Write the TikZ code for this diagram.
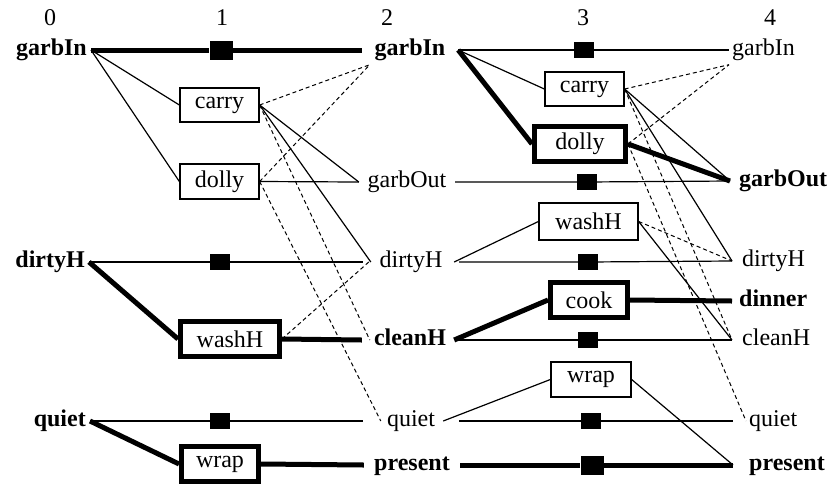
\documentclass[tikz,border=0pt]{standalone}
\usepackage{fontspec}
\setmainfont{Liberation Serif}
\begin{document}
\begin{tikzpicture}[x=1pt,y=-1pt,
  font=\fontsize{24}{28}\selectfont,
  lbl/.style={inner sep=4pt, text height=16pt, text depth=5pt},
  blbl/.style={lbl, font=\fontsize{24}{28}\selectfont\bfseries},
  mid/.style={inner xsep=0pt, minimum width=96pt},
  num/.style={inner sep=0pt},
  act/.style={draw, line width=1.3pt, inner sep=0pt, minimum width=79pt, minimum height=34pt},
  bact/.style={draw, line width=5pt, inner sep=0pt, minimum height=35pt},
  noop/.style={fill=black, inner sep=0pt, minimum width=20pt, minimum height=16pt},
  bnoop/.style={fill=black, inner sep=0pt, minimum width=23pt, minimum height=19pt},
  light/.style={line width=1.2pt},
  heavy/.style={line width=5pt},
  del/.style={line width=1pt, dash pattern=on 4pt off 3pt}
]
\useasboundingbox (0,0) rectangle (835,483);

% column numbers
\node[num] (n0) at (50,18) {0};
\node[num] (n1) at (222,18) {1};
\node[num] (n2) at (387,18) {2};
\node[num] (n3) at (583,18) {3};
\node[num] (n4) at (770,18) {4};

% level 0
\node[blbl, anchor=east] (g0) at (91,50) {garbIn};
\node[blbl, anchor=east] (d0) at (89,262) {dirtyH};
\node[blbl, anchor=east] (q0) at (90,421) {quiet};

% level 2 (centred in a column from 362 to 458)
\node[blbl, mid] (g2) at (410,50) {garbIn};
\node[lbl, mid] (o2) at (407,182) {garbOut};
\node[lbl, mid] (d2) at (411,262) {dirtyH};
\node[blbl, mid] (c2) at (410,340) {cleanH};
\node[lbl, mid] (q2) at (411,421) {quiet};
\node[blbl, mid] (p2) at (412,465) {present};

% level 4
\node[lbl, anchor=west, inner xsep=3pt] (g4) at (729,50) {garbIn};
\node[blbl, anchor=west, inner xsep=9pt] (o4) at (730,181) {garbOut};
\node[lbl, anchor=west, inner xsep=10pt] (d4) at (732,261) {dirtyH};
\node[blbl, anchor=west, inner xsep=7pt] (di4) at (732,301) {dinner};
\node[lbl, anchor=west, inner xsep=10pt] (c4) at (732,340) {cleanH};
\node[lbl, anchor=west, inner xsep=16pt] (q4) at (733,421) {quiet};
\node[blbl, anchor=west, inner xsep=16pt] (p4) at (733,465) {present};

% layer 1 actions
\node[act] (carry1) at (219.5,105) {carry};
\node[act, minimum height=35pt] (dolly1) at (219.5,181.5) {dolly};
\node[bact, minimum width=99pt] (wash1) at (230,339) {washH};
\node[bact, minimum width=77pt] (wrap1) at (220,464) {wrap};

% layer 3 actions
\node[act] (carry3) at (584.5,89) {carry};
\node[bact, minimum width=91pt] (dolly3) at (580,144) {dolly};
\node[act, minimum width=99pt, minimum height=37pt] (wash3) at (588.5,221.5) {washH};
\node[bact, minimum width=77pt] (cook) at (589,300) {cook};
\node[act, minimum width=80pt, minimum height=35pt] (wrap3) at (591,379.5) {wrap};

% noops layer 1
\node[bnoop] (gn1) at (221,50) {};
\node[noop] (dn1) at (220,262) {};
\node[noop] (qn1) at (220,421) {};

% noops layer 3
\node[noop] (gn3) at (584,50) {};
\node[noop] (on3) at (587,182) {};
\node[noop] (dn3) at (588,262) {};
\node[noop] (cn3) at (588,340) {};
\node[noop] (qn3) at (591,421) {};
\node[bnoop] (pn3) at (592,465) {};

% ---- layer 1 connectors
\draw[heavy] (g0.east) -- (gn1) -- (g2.west);
\draw[light] (g0.east) -- (carry1.west);
\draw[light] (g0.east) -- (dolly1.west);
\draw[del] (carry1.east) -- ([xshift=8pt]g2.south west);
\draw[del] (carry1.east) -- ([xshift=8pt]c2.west);
\draw[light] (carry1.east) -- (o2.west);
\draw[light] (carry1.east) -- ([xshift=8pt]d2.west);
\draw[del] (dolly1.east) -- ([xshift=8pt]g2.south west);
\draw[del] (dolly1.east) -- ([xshift=18pt]q2.west);
\draw[light] (dolly1.east) -- (o2.west);
\draw[light] (d0.east) -- (dn1) -- (d2.west);
\draw[heavy] (d0.east) -- (wash1.west);
\draw[heavy] (wash1.east) -- (c2.west);
\draw[del] (wash1.east) -- ([xshift=6pt]d2.west);
\draw[light] (q0.east) -- (qn1) -- (q2.west);
\draw[heavy] (q0.east) -- (wrap1.west);
\draw[heavy] (wrap1.east) -- (p2.west);

% ---- layer 3 connectors
\draw[light] (g2.east) -- (gn3) -- (g4.west);
\draw[light] (g2.east) -- (carry3.west);
\draw[heavy] (g2.east) -- (dolly3.west);
\draw[del] (carry3.east) -- (g4.south west);
\draw[del] (carry3.east) -- (c4.west);
\draw[light] (carry3.east) -- (o4.west);
\draw[light] (carry3.east) -- (d4.west);
\draw[del] (dolly3.east) -- (g4.south west);
\draw[del] (dolly3.east) -- ([xshift=13pt]q4.west);
\draw[heavy] (dolly3.east) -- (o4.west);
\draw[light] (o2.east) -- (on3) -- (o4.west);
\draw[light] ([xshift=-5pt]d2.east) -- (wash3.west);
\draw[del] (wash3.east) -- (d4.west);
\draw[light] (wash3.east) -- (c4.west);
\draw[light] (d2.east) -- (dn3) -- (d4.west);
\draw[heavy] ([xshift=-4pt]c2.east) -- (cook.west);
\draw[heavy] (cook.east) -- (di4.west);
\draw[light] (c2.east) -- (cn3) -- (c4.west);
\draw[light] ([xshift=-16pt]q2.east) -- (wrap3.west);
\draw[light] (wrap3.east) -- (p4.west);
\draw[light] (q2.east) -- (qn3) -- (q4.west);
\draw[heavy] (p2.east) -- (pn3) -- (p4.west);
\end{tikzpicture}
\end{document}
